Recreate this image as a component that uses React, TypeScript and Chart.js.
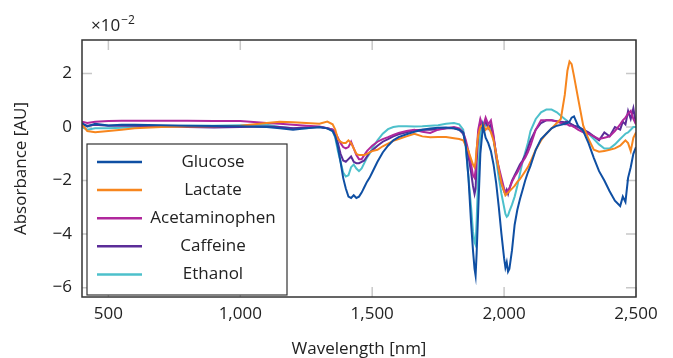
import React, { useEffect, useRef } from "react";
import { Chart, registerables } from "chart.js";

Chart.register(...registerables);

const wavelengths = [
  400, 420, 450, 500, 550, 600, 700, 800, 900, 1000, 1100, 1150, 1200, 1250, 1300, 1330,
  1350, 1360, 1370, 1380, 1390, 1400, 1410, 1420, 1430, 1440, 1450, 1460, 1470, 1480, 1490, 1500, 1520, 1540, 1560, 1580, 1600, 1630, 1660, 1690, 1720, 1750, 1780, 1810, 1830, 1845,
  1855, 1865, 1875, 1882, 1888, 1892, 1896, 1902, 1910, 1920, 1930, 1940, 1950, 1960, 1970, 1980, 1990, 2000, 2005, 2010, 2015, 2020, 2030, 2040, 2050, 2060, 2070, 2080, 2090, 2100,
  2120, 2140, 2160, 2180, 2200, 2215, 2230, 2240, 2248, 2256, 2265, 2280, 2300, 2320, 2340, 2360, 2380, 2400, 2420, 2440, 2450, 2460, 2470, 2480, 2490, 2500,
];

const glucose = [
  0.15, 0.02, 0.12, 0.06, 0.08, 0.08, 0.07, 0.05, 0.04, 0.03, 0.0, -0.05, -0.1, -0.05, 0.0, -0.05,
  -0.15, -0.35, -0.75, -1.3, -1.9, -2.3, -2.6, -2.65, -2.55, -2.65, -2.6, -2.45, -2.25, -2.05, -1.9, -1.7, -1.3, -0.95, -0.7, -0.5, -0.38, -0.27, -0.18, -0.1, -0.06, -0.03, -0.02, -0.05, -0.1, -0.2,
  -0.7, -1.9, -3.6, -4.6, -5.3, -5.55, -4.7, -3.1, -1.0, 0.05, -0.4, -0.6, -0.9, -1.4, -2.1, -3.0, -4.0, -4.9, -5.25, -5.05, -5.4, -5.3, -4.6, -3.65, -3.1, -2.7, -2.35, -2.0, -1.7, -1.45,
  -0.85, -0.45, -0.25, -0.05, 0.05, 0.08, 0.12, 0.15, 0.2, 0.35, 0.4, 0.05, -0.15, -0.6, -1.15, -1.65, -2.0, -2.4, -2.75, -2.95, -2.6, -2.8, -1.9, -1.5, -1.0, -0.75,
];

const lactate = [
  0.1, -0.15, -0.2, -0.15, -0.1, -0.05, 0.0, 0.02, 0.03, 0.05, 0.15, 0.2, 0.18, 0.15, 0.12, 0.2,
  0.1, -0.1, -0.45, -0.55, -0.6, -0.6, -0.5, -0.6, -0.8, -1.0, -1.05, -1.05, -1.05, -1.0, -0.95, -0.9, -0.85, -0.72, -0.62, -0.52, -0.45, -0.35, -0.25, -0.35, -0.38, -0.37, -0.37, -0.42, -0.45, -0.5,
  -0.7, -0.9, -1.2, -1.4, -1.5, -1.3, -0.8, -0.3, 0.0, 0.1, -0.1, 0.0, -0.2, -0.5, -1.0, -1.6, -2.1, -2.4, -2.55, -2.5, -2.45, -2.4, -2.3, -2.2, -2.05, -1.95, -1.8, -1.65, -1.5, -1.3,
  -0.85, -0.5, -0.25, -0.05, 0.15, 0.3, 1.2, 2.1, 2.45, 2.35, 1.9, 1.1, 0.05, -0.45, -0.85, -0.92, -0.9, -0.85, -0.8, -0.7, -0.6, -0.5, -0.6, -0.9, -0.4, -0.2,
];

const acetaminophen = [
  0.2, 0.15, 0.2, 0.22, 0.23, 0.23, 0.23, 0.23, 0.22, 0.22, 0.15, 0.12, 0.08, 0.05, 0.02, -0.05,
  -0.1, -0.2, -0.4, -0.6, -0.75, -0.8, -0.75, -0.55, -0.8, -1.05, -1.2, -1.2, -1.05, -0.9, -0.8, -0.7, -0.55, -0.45, -0.38, -0.3, -0.22, -0.15, -0.1, -0.18, -0.22, -0.1, -0.05, 0.0, -0.05, -0.2,
  -0.5, -0.9, -1.4, -1.8, -1.9, -1.6, -0.9, -0.1, 0.3, 0.0, 0.35, 0.1, 0.25, -0.3, -1.1, -1.5, -1.9, -2.3, -2.4, -2.45, -2.35, -2.3, -2.05, -1.85, -1.7, -1.5, -1.3, -1.15, -0.95, -0.7,
  -0.1, 0.25, 0.25, 0.25, 0.2, 0.15, 0.1, 0.1, 0.05, 0.05, 0.0, -0.1, -0.2, -0.25, -0.35, -0.45, -0.4, -0.35, -0.15, 0.1, 0.25, 0.35, 0.5, 0.6, 0.3, 0.1,
];

const caffeine = [
  0.1, 0.05, 0.08, 0.05, 0.05, 0.05, 0.03, 0.0, -0.02, 0.0, 0.02, 0.0, -0.05, -0.02, 0.0, -0.05,
  -0.1, -0.25, -0.6, -1.0, -1.25, -1.3, -1.2, -1.1, -1.3, -1.35, -1.35, -1.3, -1.25, -1.1, -0.95, -0.88, -0.7, -0.55, -0.45, -0.35, -0.27, -0.2, -0.12, -0.1, -0.1, -0.08, -0.05, -0.05, -0.1, -0.25,
  -0.6, -1.1, -1.7, -2.2, -2.5, -2.3, -1.3, -0.3, 0.2, -0.1, 0.25, -0.05, 0.1, -0.4, -1.0, -1.6, -2.1, -2.4, -2.5, -2.35, -2.5, -2.3, -2.0, -1.8, -1.6, -1.4, -1.25, -1.05, -0.8, -0.5,
  -0.1, 0.15, 0.25, 0.25, 0.22, 0.2, 0.18, 0.2, 0.15, 0.1, 0.05, 0.0, -0.1, -0.2, -0.35, -0.5, -0.2, -0.35, 0.0, -0.1, 0.2, 0.1, 0.6, 0.3, 0.7, 0.1,
];

const ethanol = [
  0.0, -0.1, -0.05, -0.05, -0.03, 0.0, 0.02, 0.05, 0.05, 0.07, 0.08, 0.0, -0.05, -0.05, 0.0, -0.05,
  -0.15, -0.4, -0.9, -1.3, -1.7, -1.85, -1.8, -1.5, -1.4, -1.55, -1.65, -1.55, -1.35, -1.15, -1.0, -0.8, -0.5, -0.25, -0.08, 0.0, 0.03, 0.03, 0.02, 0.03, 0.05, 0.07, 0.12, 0.15, 0.1, -0.1,
  -0.8, -1.9, -3.0, -3.9, -4.3, -4.4, -3.5, -1.8, -0.2, 0.15, 0.05, 0.1, -0.1, -0.45, -1.2, -1.9, -2.5, -3.0, -3.25, -3.35, -3.3, -3.15, -2.9, -2.6, -2.2, -1.75, -1.3, -0.95, -0.6, -0.15,
  0.3, 0.55, 0.65, 0.65, 0.55, 0.42, 0.3, 0.22, 0.15, 0.1, 0.05, 0.0, -0.1, -0.25, -0.45, -0.65, -0.8, -0.8, -0.65, -0.45, -0.35, -0.25, -0.2, -0.1, 0.0, 0.0,
];

const seriesNames = ["Glucose", "Lactate", "Acetaminophen", "Caffeine", "Ethanol"];
const seriesColors = ["#0f4fa3", "#f7861e", "#b0279c", "#5b2c98", "#4dc0cb"];
const xTicks = [500, 1000, 1500, 2000, 2500];
const yTicks = [-6, -4, -2, 0, 2];

const FONT = "'Open Sans', sans-serif";

const framePlugin = {
  id: "frame",
  beforeDatasetsDraw(chart: any) {
    const { ctx, chartArea: a, scales } = chart;
    ctx.save();
    ctx.strokeStyle = "#c8c8c8";
    ctx.lineWidth = 1.5;
    const len = 10;
    ctx.beginPath();
    xTicks.forEach((v) => {
      const px = scales.x.getPixelForValue(v);
      ctx.moveTo(px, a.bottom);
      ctx.lineTo(px, a.bottom - len);
      ctx.moveTo(px, a.top);
      ctx.lineTo(px, a.top + len);
    });
    yTicks.forEach((v) => {
      const py = scales.y.getPixelForValue(v);
      ctx.moveTo(a.left, py);
      ctx.lineTo(a.left + len, py);
      ctx.moveTo(a.right, py);
      ctx.lineTo(a.right - len, py);
    });
    ctx.stroke();
    ctx.restore();
  },
  afterDatasetsDraw(chart: any) {
    const { ctx, chartArea: a } = chart;
    ctx.save();
    // plot frame
    ctx.strokeStyle = "#333333";
    ctx.lineWidth = 1.5;
    ctx.strokeRect(a.left, a.top, a.right - a.left, a.bottom - a.top);

    // legend box
    const bx = a.left + 5;
    const by = a.bottom - 153;
    const bw = 200;
    const bh = 151;
    ctx.fillStyle = "#ffffff";
    ctx.fillRect(bx, by, bw, bh);
    ctx.strokeStyle = "#333333";
    ctx.lineWidth = 1.2;
    ctx.strokeRect(bx, by, bw, bh);
    ctx.font = `17px ${FONT}`;
    ctx.textAlign = "center";
    ctx.textBaseline = "middle";
    chart.data.datasets.forEach((ds: any, i: number) => {
      const y = by + 18 + i * 28.1;
      ctx.strokeStyle = ds.borderColor;
      ctx.lineWidth = 2.5;
      ctx.beginPath();
      ctx.moveTo(bx + 10, y);
      ctx.lineTo(bx + 55, y);
      ctx.stroke();
      ctx.fillStyle = "#222222";
      ctx.fillText(ds.label, bx + 126, y);
    });

    // exponent label
    ctx.textAlign = "left";
    ctx.textBaseline = "alphabetic";
    ctx.fillStyle = "#222222";
    ctx.font = `17px ${FONT}`;
    const base = "×10";
    const ex = a.left + 9;
    const ey = a.top - 9;
    ctx.fillText(base, ex, ey);
    const w = ctx.measureText(base).width;
    ctx.font = `12px ${FONT}`;
    ctx.fillText("−2", ex + w + 1, ey - 7);
    ctx.restore();
  },
};

export default function App() {
  const canvasRef = useRef<HTMLCanvasElement | null>(null);

  useEffect(() => {
    document.body.style.margin = "0";
    const canvas = canvasRef.current;
    if (!canvas) return;
    const all = [glucose, lactate, acetaminophen, caffeine, ethanol];
    const chart = new Chart(canvas, {
      type: "line",
      data: {
        datasets: all.map((vals, i) => ({
          label: seriesNames[i],
          data: wavelengths.map((w, j) => ({ x: w, y: vals[j] })),
          borderColor: seriesColors[i],
          backgroundColor: seriesColors[i],
          borderWidth: 2,
          pointRadius: 0,
          tension: 0,
          fill: false,
        })),
      },
      options: {
        animation: false,
        responsive: false,
        devicePixelRatio: 1,
        layout: { padding: { left: 0, right: 37, top: 40, bottom: 0 } },
        plugins: { legend: { display: false }, tooltip: { enabled: false } },
        scales: {
          x: {
            type: "linear",
            min: 400,
            max: 2500,
            afterBuildTicks: (s: any) => {
              s.ticks = xTicks.map((v) => ({ value: v }));
            },
            afterFit: (s: any) => {
              s.height = 61;
            },
            grid: { display: false, drawTicks: false },
            border: { display: false },
            ticks: {
              padding: 7,
              color: "#222222",
              font: { family: FONT, size: 17 },
              maxRotation: 0,
              autoSkip: false,
              callback: (v: any) => Number(v).toLocaleString("en-US"),
            },
            title: {
              display: true,
              text: "Wavelength [nm]",
              color: "#222222",
              font: { family: FONT, size: 17, lineHeight: 1 },
              padding: { top: 0, bottom: 0 },
            },
          },
          y: {
            type: "linear",
            min: -6.35,
            max: 3.25,
            afterBuildTicks: (s: any) => {
              s.ticks = yTicks.map((v) => ({ value: v }));
            },
            afterFit: (s: any) => {
              s.width = 82;
            },
            grid: { display: false, drawTicks: false },
            border: { display: false },
            ticks: {
              padding: 10,
              color: "#222222",
              font: { family: FONT, size: 17 },
              callback: (v: any) => (v < 0 ? "−" + Math.abs(v) : String(v)),
            },
            title: {
              display: true,
              text: "Absorbance [AU]",
              color: "#222222",
              font: { family: FONT, size: 17, lineHeight: 1 },
              padding: { top: 13, bottom: 0 },
            },
          },
        },
      },
      plugins: [framePlugin],
    });
    return () => chart.destroy();
  }, []);

  return (
    <div style={{ width: 673, height: 358 }}>
      <canvas ref={canvasRef} width={673} height={358} />
    </div>
  );
}
